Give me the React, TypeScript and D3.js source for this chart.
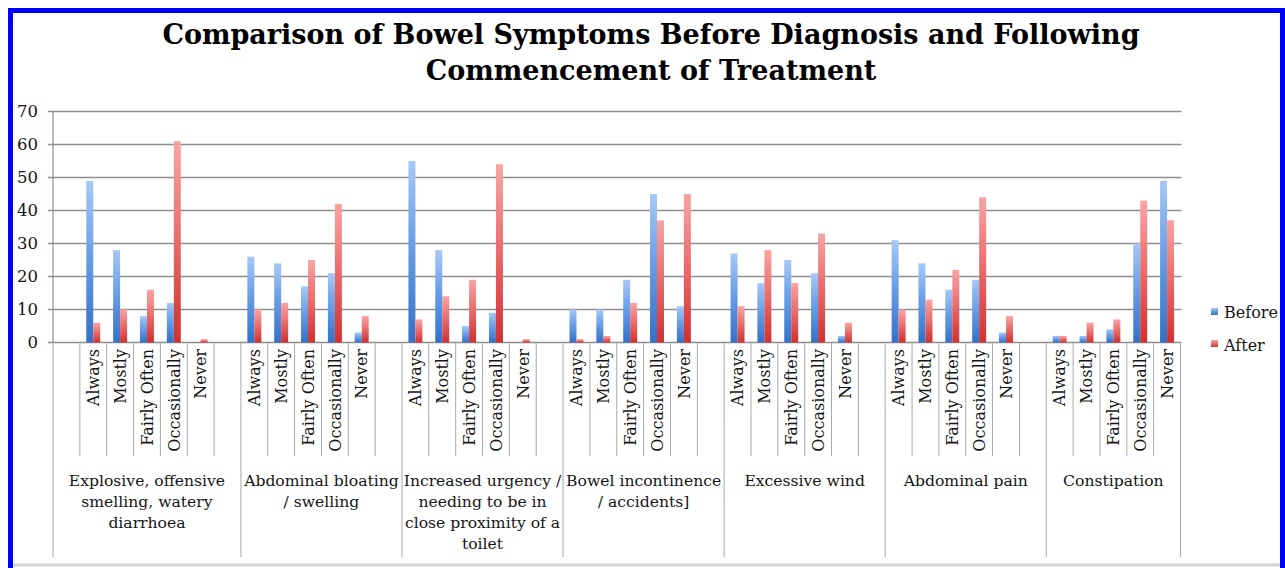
import React, {useEffect, useRef} from 'react';
import * as d3 from 'd3';

// Symptom groups (label lines as wrapped in the original)
const groups = [
  ['Explosive, offensive', 'smelling, watery', 'diarrhoea'],
  ['Abdominal bloating', '/ swelling'],
  ['Increased urgency /', 'needing to be in', 'close proximity of a', 'toilet'],
  ['Bowel incontinence', '/ accidents]'],
  ['Excessive wind'],
  ['Abdominal pain'],
  ['Constipation'],
];
const responses = ['Always', 'Mostly', 'Fairly Often', 'Occasionally', 'Never'];
const series = ['Before', 'After'];

const before = [
  [49, 28, 8, 12, 0],
  [26, 24, 17, 21, 3],
  [55, 28, 5, 9, 0],
  [10, 10, 19, 45, 11],
  [27, 18, 25, 21, 2],
  [31, 24, 16, 19, 3],
  [2, 2, 4, 30, 49],
];
const after = [
  [6, 10, 16, 61, 1],
  [10, 12, 25, 42, 8],
  [7, 14, 19, 54, 1],
  [1, 2, 12, 37, 45],
  [11, 28, 18, 33, 6],
  [10, 13, 22, 44, 8],
  [2, 6, 7, 43, 37],
];
const yTicks = [0, 10, 20, 30, 40, 50, 60, 70];

const FONT = '"DejaVu Serif", serif';
const INK = '#151515';

const App = () => {
  const ref = useRef<SVGSVGElement>(null);

  useEffect(() => {
    const svg = d3.select(ref.current);
    svg.selectAll('*').remove();

    // Excel-style slots: a leading blank, then each group's answers plus a blank gap
    const slots: string[] = ['lead'];
    const groupStart: string[] = [];
    const groupEnd: string[] = [];
    groups.forEach((g, gi) => {
      groupStart.push(gi === 0 ? 'lead' : `${gi}|${responses[0]}`);
      responses.forEach(r => slots.push(`${gi}|${r}`));
      if (gi < groups.length - 1) {
        slots.push(`gap${gi}`);
        groupEnd.push(`gap${gi}`);
      } else {
        groupEnd.push(`${gi}|${responses[responses.length - 1]}`);
      }
    });

    const left = 53, right = 1180.5, top = 111.5, bottom = 342.5;

    const x0 = d3.scaleBand().domain(slots).range([left, right]);
    const x1 = d3.scaleBand().domain(series).range([0, x0.bandwidth()]).paddingOuter(0.92);
    const y = d3.scaleLinear().domain([0, 70]).range([bottom, top]);

    const defs = svg.append('defs');
    const grad = (id: string, c1: string, c2: string, c3: string) => {
      const lg = defs.append('linearGradient').attr('id', id)
        .attr('x1', 0).attr('y1', 0).attr('x2', 0).attr('y2', 1);
      lg.append('stop').attr('offset', '0%').attr('stop-color', c1);
      lg.append('stop').attr('offset', '45%').attr('stop-color', c2);
      lg.append('stop').attr('offset', '100%').attr('stop-color', c3);
    };
    grad('gBefore', '#a6c8f6', '#6a9fe8', '#3270c8');
    grad('gAfter', '#f8a4a4', '#eb7070', '#d03030');

    // blue frame
    svg.append('rect')
      .attr('x', 10.5).attr('y', 10.5).attr('width', 1272).attr('height', 620)
      .attr('fill', 'white').attr('stroke', '#0000ff').attr('stroke-width', 5);
    svg.append('line')
      .attr('x1', 13).attr('x2', 1280).attr('y1', 565).attr('y2', 565)
      .attr('stroke', '#d4d4d4').attr('stroke-width', 3);

    // title
    const title = svg.append('text')
      .attr('text-anchor', 'middle')
      .attr('font-family', FONT)
      .attr('font-weight', 'bold')
      .attr('font-size', 27)
      .attr('fill', '#000');
    title.append('tspan').attr('x', 651).attr('y', 44)
      .text('Comparison of Bowel Symptoms Before Diagnosis and Following');
    title.append('tspan').attr('x', 651).attr('y', 80)
      .text('Commencement of Treatment');

    // gridlines + y labels
    svg.append('g').selectAll('line').data(yTicks).enter().append('line')
      .attr('x1', left - 5).attr('x2', right + 1)
      .attr('y1', d => y(d)).attr('y2', d => y(d))
      .attr('stroke', '#8e8e8e').attr('stroke-width', 1.4);
    svg.append('g').selectAll('text').data(yTicks).enter().append('text')
      .attr('x', 38).attr('y', d => y(d)).attr('dy', '0.35em')
      .attr('text-anchor', 'end')
      .attr('font-family', FONT).attr('font-size', 16.5).attr('fill', INK)
      .text(d => d);
    svg.append('line')
      .attr('x1', left).attr('x2', left).attr('y1', top).attr('y2', bottom)
      .attr('stroke', '#8e8e8e').attr('stroke-width', 1.2);

    // bars
    const barData: {slot: string; s: string; v: number}[] = [];
    groups.forEach((g, gi) => responses.forEach((r, ri) => {
      barData.push({slot: `${gi}|${r}`, s: 'Before', v: before[gi][ri]});
      barData.push({slot: `${gi}|${r}`, s: 'After', v: after[gi][ri]});
    }));
    svg.append('g').selectAll('rect').data(barData.filter(d => d.v > 0)).enter().append('rect')
      .attr('x', d => x0(d.slot)! + x1(d.s)!)
      .attr('y', d => y(d.v))
      .attr('width', x1.bandwidth())
      .attr('height', d => bottom - y(d.v))
      .attr('fill', d => d.s === 'Before' ? 'url(#gBefore)' : 'url(#gAfter)');

    // category axis separators
    const longEdges = new Set<number>();
    groupStart.forEach(s => longEdges.add(Math.round(x0(s)! * 10)));
    groupEnd.forEach(s => longEdges.add(Math.round((x0(s)! + x0.bandwidth()) * 10)));
    const edges = slots.map(s => x0(s)!).concat([right]);
    svg.append('g').selectAll('line').data(edges).enter().append('line')
      .attr('x1', d => d).attr('x2', d => d)
      .attr('y1', bottom)
      .attr('y2', d => longEdges.has(Math.round(d * 10)) ? 557 : 456)
      .attr('stroke', '#a8a8a8').attr('stroke-width', 1);

    // answer labels (rotated)
    const leaf = svg.append('g');
    groups.forEach((g, gi) => responses.forEach(r => {
      const cx = x0(`${gi}|${r}`)! + x0.bandwidth() / 2;
      leaf.append('text')
        .attr('transform', `translate(${cx},349) rotate(-90)`)
        .attr('text-anchor', 'end').attr('dy', '0.36em')
        .attr('font-family', FONT).attr('font-size', 16).attr('fill', INK)
        .text(r);
    }));

    // group labels
    const gl = svg.append('g');
    groups.forEach((lines, gi) => {
      const a = x0(groupStart[gi])!;
      const b = x0(groupEnd[gi])! + x0.bandwidth();
      const t = gl.append('text')
        .attr('text-anchor', 'middle')
        .attr('font-family', FONT).attr('font-size', 15.6).attr('fill', INK);
      lines.forEach((ln, li) => {
        t.append('tspan').attr('x', (a + b) / 2).attr('y', 486 + li * 21).text(ln);
      });
    });

    // legend
    const lg = svg.append('g');
    series.forEach((s, i) => {
      lg.append('rect')
        .attr('x', 1211).attr('y', 308 + i * 32).attr('width', 7).attr('height', 7)
        .attr('fill', s === 'Before' ? 'url(#gBefore)' : 'url(#gAfter)');
      lg.append('text')
        .attr('x', 1224).attr('y', 318 + i * 33)
        .attr('font-family', FONT).attr('font-size', 16).attr('fill', INK)
        .text(s);
    });
  }, []);

  return <svg ref={ref} width={1285} height={568}
              style={{position: 'absolute', left: 0, top: 0}}></svg>;
};

export default App;
